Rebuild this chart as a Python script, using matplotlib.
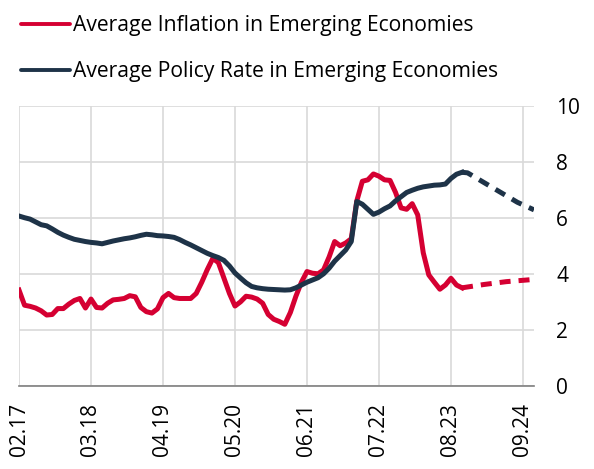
import matplotlib
matplotlib.use('Agg')
import matplotlib.pyplot as plt
from matplotlib.lines import Line2D
import numpy as np

plt.rcParams['font.family'] = ['Open Sans', 'DejaVu Sans']

# month index 0 = 02.17
tick_labels = ['02.17', '03.18', '04.19', '05.20', '06.21', '07.22', '08.23', '09.24']
tick_pos = [0, 13, 26, 39, 52, 65, 78, 91]

inflation = [3.42, 2.88, 2.84, 2.78, 2.68, 2.53, 2.55, 2.76, 2.76, 2.92,
             3.05, 3.12, 2.78, 3.10, 2.80, 2.78, 2.95, 3.07, 3.09, 3.12,
             3.22, 3.18, 2.80, 2.65, 2.60, 2.75, 3.15, 3.30, 3.15, 3.12,
             3.12, 3.12, 3.30, 3.70, 4.15, 4.55, 4.40, 3.85, 3.30, 2.85,
             3.00, 3.20, 3.17, 3.10, 2.95, 2.55, 2.38, 2.30, 2.20, 2.62,
             3.20, 3.70, 4.08, 4.02, 4.00, 4.14, 4.60, 5.15, 5.00, 5.10,
             5.25, 6.60, 7.30, 7.35, 7.56, 7.48, 7.35, 7.33, 6.90, 6.35,
             6.30, 6.50, 6.10, 4.75, 3.96, 3.70, 3.45, 3.60, 3.84, 3.60,
             3.50]

policy = [6.06, 6.00, 5.95, 5.85, 5.75, 5.71, 5.60, 5.48, 5.38, 5.30,
          5.23, 5.19, 5.15, 5.12, 5.10, 5.07, 5.12, 5.17, 5.21, 5.25,
          5.28, 5.32, 5.37, 5.41, 5.39, 5.36, 5.35, 5.33, 5.30, 5.22,
          5.12, 5.03, 4.93, 4.83, 4.73, 4.65, 4.58, 4.48, 4.28, 4.03,
          3.85, 3.68, 3.55, 3.50, 3.47, 3.45, 3.44, 3.43, 3.42, 3.43,
          3.50, 3.60, 3.70, 3.78, 3.86, 4.00, 4.20, 4.45, 4.65, 4.85,
          5.15, 6.58, 6.48, 6.30, 6.12, 6.20, 6.32, 6.42, 6.60, 6.75,
          6.90, 6.98, 7.05, 7.10, 7.13, 7.16, 7.17, 7.20, 7.40, 7.55,
          7.62]

infl_fc_x = [80, 84, 88, 93]
infl_fc = [3.50, 3.62, 3.72, 3.80]
pol_fc_x = [80, 81, 84, 87, 90, 93]
pol_fc = [7.62, 7.60, 7.25, 6.90, 6.55, 6.28]

red = '#D50032'
navy = '#1E3348'

fig = plt.figure(figsize=(5.94, 4.69), dpi=100)
ax = fig.add_axes([0.032, 0.177, 0.867, 0.598])

months = np.arange(len(inflation))
ax.plot(months, inflation, color=red, lw=3.6, solid_joinstyle='round', zorder=3)
ax.plot(infl_fc_x, infl_fc, color=red, lw=3.6, ls=(0, (2.2, 1.6)), zorder=3)
ax.plot(np.arange(len(policy)), policy, color=navy, lw=3.6, solid_joinstyle='round', zorder=4)
ax.plot(pol_fc_x, pol_fc, color=navy, lw=3.6, ls=(0, (2.2, 1.6)), zorder=4)

ax.set_xlim(0, 93)
ax.set_ylim(0, 10)
ax.set_xticks(tick_pos)
ax.set_xticklabels(tick_labels, rotation=90, fontsize=15)
ax.set_yticks([0, 2, 4, 6, 8, 10])
ax.yaxis.tick_right()
ax.tick_params(axis='both', length=0, labelsize=15)
ax.tick_params(axis='y', pad=16)
ax.tick_params(axis='x', pad=12)
ax.grid(True, color='#d9d9d9', lw=1.2)
ax.set_axisbelow(True)
for s in ['top', 'left', 'right']:
    ax.spines[s].set_visible(False)
ax.spines['bottom'].set_color('#7f7f7f')
ax.spines['bottom'].set_linewidth(1.2)

handles = [Line2D([], [], color=red, lw=2.8, solid_capstyle='round'),
           Line2D([], [], color=navy, lw=2.8, solid_capstyle='round')]
fig.legend(handles, ['Average Inflation in Emerging Economies',
                     'Average Policy Rate in Emerging Economies'],
           loc='upper left', bbox_to_anchor=(0.036, 0.968), frameon=False,
           fontsize=15.2, handlelength=2.3, handletextpad=0.15, labelspacing=1.2,
           borderaxespad=0, borderpad=0)

fig.savefig('out.png', dpi=100)
